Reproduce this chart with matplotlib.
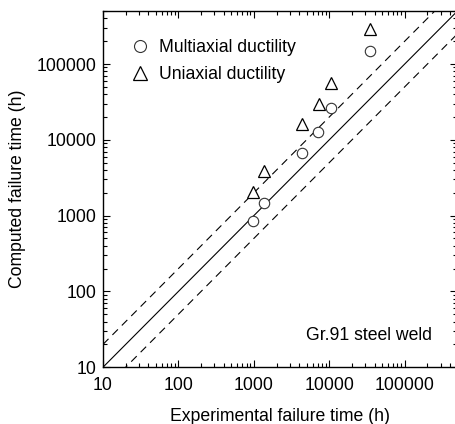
import matplotlib
matplotlib.use("Agg")
import matplotlib.pyplot as plt
import numpy as np
from matplotlib.ticker import LogLocator, FixedLocator, FixedFormatter, NullFormatter

plt.rcParams['font.family'] = ['Liberation Sans', 'DejaVu Sans']

# Data
exp_multi = [980, 1350, 4400, 7100, 10500, 34400]
comp_multi = [850, 1450, 6700, 12600, 26500, 148000]
exp_uni = [980, 1350, 4400, 7200, 10500, 34400]
comp_uni = [2040, 3900, 16300, 29500, 57000, 288000]

ticks = [10, 100, 1000, 10000, 100000]
tick_labels = ["10", "100", "1000", "10000", "100000"]
lim = (10, 5e5)
factor = 2

fig = plt.figure(figsize=(4.55, 4.24), dpi=100)
ax = fig.add_axes([0.2264, 0.134, 0.779, 0.840])
ax.set_xscale('log')
ax.set_yscale('log')
ax.set_xlim(*lim)
ax.set_ylim(*lim)

ref = np.array(lim)
ax.plot(ref, ref, color='black', lw=0.8)
ax.plot(ref, ref * factor, color='black', lw=0.8, ls=(0, (7, 5)))
ax.plot(ref, ref / factor, color='black', lw=0.8, ls=(0, (7, 5)))

ax.plot(exp_multi, comp_multi, linestyle='none', marker='o', ms=7.5,
        mfc='white', mec='#333333', mew=0.8, label='Multiaxial ductility')
ax.plot(exp_uni, comp_uni, linestyle='none', marker='^', ms=8.5,
        mfc='white', mec='black', mew=0.9, label='Uniaxial ductility')

for axis in (ax.xaxis, ax.yaxis):
    axis.set_major_locator(FixedLocator(ticks))
    axis.set_major_formatter(FixedFormatter(tick_labels))
    axis.set_minor_locator(LogLocator(base=10, subs=np.arange(2, 10)))
    axis.set_minor_formatter(NullFormatter())

ax.tick_params(which='both', direction='in', top=True, right=True, width=0.8)
ax.tick_params(which='major', length=5, labelsize=12.7)
ax.tick_params(axis='x', which='major', pad=7)
ax.tick_params(axis='y', which='major', pad=5)
ax.tick_params(which='minor', length=3)
for s in ax.spines.values():
    s.set_linewidth(1.0)

ax.set_xlabel('Experimental failure time (h)', fontsize=12.7, labelpad=10)
ax.set_ylabel('Computed failure time (h)', fontsize=12.7, labelpad=7)

leg = ax.legend(loc='upper left', bbox_to_anchor=(0.035, 0.955), frameon=False,
                fontsize=12.7, markerscale=1.15, handletextpad=0.35,
                labelspacing=0.55, handlelength=1.4, borderaxespad=0.3)

ax.text(0.927, 0.09, 'Gr.91 steel weld', transform=ax.transAxes,
        ha='right', va='center', fontsize=12.7)

fig.savefig('out.png', dpi=100)
